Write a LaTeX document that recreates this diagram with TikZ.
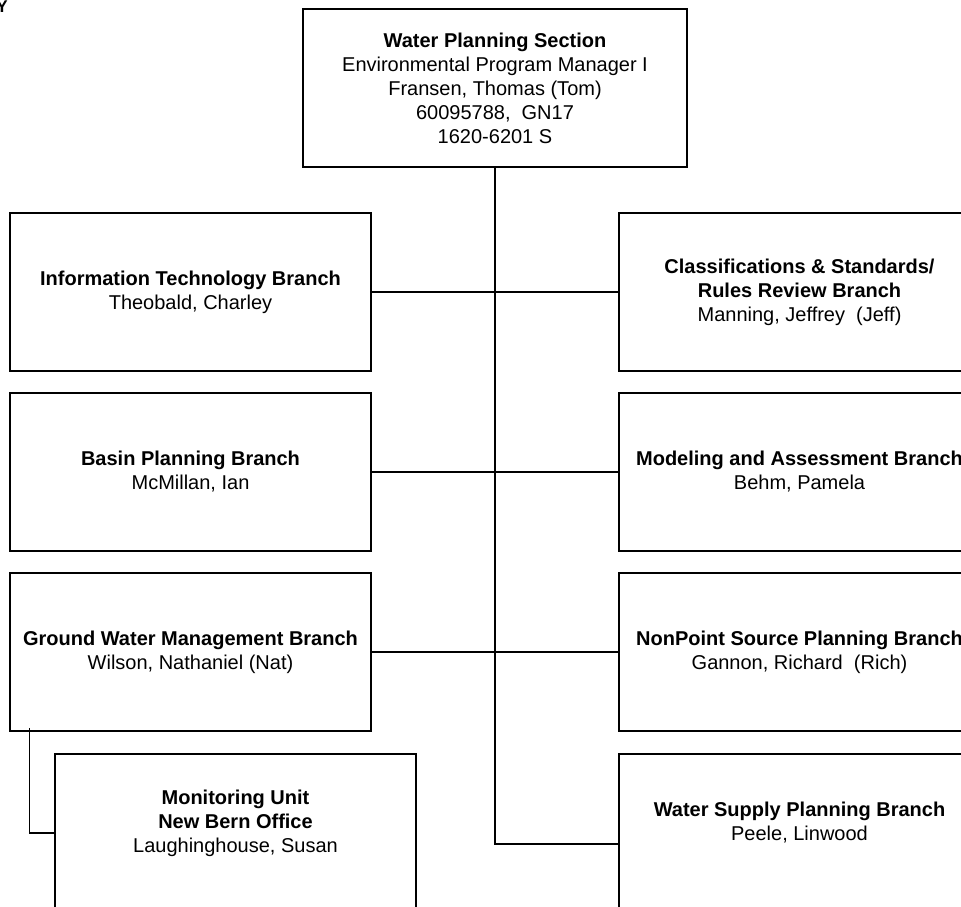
\documentclass[tikz,border=0pt]{standalone}
\usepackage{fontspec}
\setmainfont{Liberation Sans}
\usepackage{tikz}
\usetikzlibrary{positioning}

\tikzset{
  orgbox/.style={draw, rectangle, line width=0.8pt, minimum width=180.5pt,
    minimum height=79pt, inner sep=0pt, align=center,
    font=\fontsize{10}{12}\selectfont},
  topbox/.style={orgbox, minimum width=192pt},
  link/.style={line width=0.55pt}
}

\begin{document}
\begin{tikzpicture}[x=0.5pt, y=-0.5pt]
        \path [use as bounding box] (0,0) rectangle (961,906);
        \clip (0,0) rectangle (961,906);

        \node [font=\bfseries\fontsize{8.5}{10}\selectfont, anchor=base west, inner sep=0pt] (ytag) at (-4,12) {Y};

        \node [topbox] (wps) at (495,88) {\textbf{Water Planning Section}\\Environmental Program Manager I\\Fransen, Thomas (Tom)\\60095788,~ GN17\\1620-6201 S};

        \node [orgbox] (itb) at (190.5,292) {\textbf{Information Technology Branch}\\Theobald, Charley};
        \node [orgbox] (bpb) at (190.5,472) {\textbf{Basin Planning Branch}\\McMillan, Ian};
        \node [orgbox] (gwm) at (190.5,652) {\textbf{Ground Water Management Branch}\\Wilson, Nathaniel (Nat)};
        \node [orgbox] (mon) at (235.5,833) {\textbf{Monitoring Unit}\\\textbf{New Bern Office}\\Laughinghouse, Susan\\ \mbox{}};

        \node [orgbox] (crr) at (799.5,292) {\textbf{Classifications \& Standards/}\\\textbf{Rules Review Branch}\\Manning, Jeffrey~ (Jeff)};
        \node [orgbox] (mab) at (799.5,472) {\textbf{Modeling and Assessment Branch}\\Behm, Pamela};
        \node [orgbox] (nps) at (799.5,652) {\textbf{NonPoint Source Planning Branch}\\Gannon, Richard~ (Rich)};
        \node [orgbox] (wsp) at (799.5,833) {\textbf{Water Supply Planning Branch}\\Peele, Linwood\\ \mbox{}};

        \draw [link] (wps.south) |- ([yshift=-5.5pt]wsp.west);
        \draw [link] (itb.east) -- (crr.west);
        \draw [link] (bpb.east) -- (mab.west);
        \draw [link] (gwm.east) -- (nps.west);
        \draw [link] ([xshift=10pt,yshift=2pt]gwm.south west) |- (mon.west);
    \end{tikzpicture}
\end{document}
